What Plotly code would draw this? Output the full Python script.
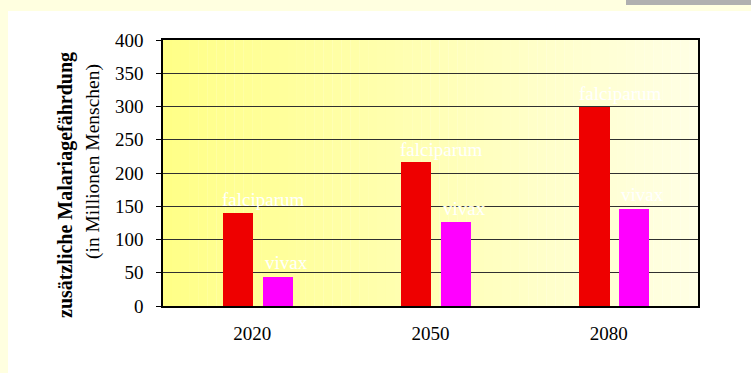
import plotly.graph_objects as go

years = ["2020", "2050", "2080"]
falciparum = [140, 216, 300]
vivax = [44, 126, 146]
series_names = ["falciparum", "vivax"]
y_ticks = [0, 50, 100, 150, 200, 250, 300, 350, 400]

W, H = 751, 373
L, R, T, B = 163, 698, 40, 306  # plot area pixels
pw, ph = R - L, B - T

def px(x):
    return (x - L) / pw

def py(y):
    return (B - y) / ph

xs = list(range(len(years)))
bw = 0.17
FONT = "Liberation Serif"

fig = go.Figure()
fig.add_bar(x=xs, y=falciparum, width=bw, offset=-0.165, marker=dict(color="#EE0000", line=dict(width=0)),
            name=series_names[0])
fig.add_bar(x=xs, y=vivax, width=bw, offset=0.058, marker=dict(color="#FF00FF", line=dict(width=0)),
            name=series_names[1])

shapes = []
shapes.append(dict(type="rect", xref="paper", yref="paper", x0=px(8), x1=px(760), y0=py(380), y1=py(11),
                   fillcolor="white", line=dict(width=0), layer="below"))
shapes.append(dict(type="rect", xref="paper", yref="paper", x0=px(626), x1=px(760), y0=py(5), y1=py(-5),
                   fillcolor="#B0B0B0", line=dict(width=0), layer="below"))
n = 60
c0 = (255, 255, 135)
c1 = (255, 255, 228)
for i in range(n):
    t = i / (n - 1)
    col = tuple(int(round(c0[k] + (c1[k] - c0[k]) * t)) for k in range(3))
    shapes.append(dict(type="rect", xref="x", yref="y",
                       x0=-0.5 + 3.0 * i / n, x1=-0.5 + 3.0 * (i + 1) / n + 0.001,
                       y0=0, y1=400, fillcolor="rgb(%d,%d,%d)" % col, line=dict(width=0), layer="below"))

annotations = []
for i in range(len(years)):
    annotations.append(dict(x=xs[i] - 0.18, y=falciparum[i], xref="x", yref="y", text=series_names[0],
                            showarrow=False, xanchor="left", yanchor="middle", yshift=13,
                            font=dict(family=FONT, size=19, color="white")))
    annotations.append(dict(x=xs[i] + 0.058, y=vivax[i], xref="x", yref="y", text=series_names[1],
                            showarrow=False, xanchor="left", yanchor="middle", yshift=14,
                            font=dict(family=FONT, size=19, color="white")))

annotations.append(dict(x=px(65), y=py(185), xref="paper", yref="paper", text="<b>zusätzliche Malariagefährdung</b>",
                        showarrow=False, textangle=-90, xanchor="center", yanchor="middle",
                        font=dict(family=FONT, size=20, color="black")))
annotations.append(dict(x=px(93), y=py(162), xref="paper", yref="paper", text="(in Millionen Menschen)",
                        showarrow=False, textangle=-90, xanchor="center", yanchor="middle",
                        font=dict(family=FONT, size=19.5, color="black")))

fig.update_layout(
    width=W, height=H,
    margin=dict(l=L, r=W - R, t=T, b=H - B, pad=0),
    paper_bgcolor="#FFFFE0",
    plot_bgcolor="rgba(0,0,0,0)",
    showlegend=False,
    bargap=0,
    shapes=shapes,
    annotations=annotations,
    font=dict(family=FONT, size=19, color="black"),
    xaxis=dict(range=[-0.5, 2.5], tickvals=xs, ticktext=years, showgrid=False, zeroline=False,
               showline=True, linecolor="black", linewidth=1.5, mirror=True, ticks="",
               ticklabelstandoff=9, tickfont=dict(family=FONT, size=19, color="black"), fixedrange=True),
    yaxis=dict(range=[0, 400], tickvals=y_ticks, showgrid=True, gridcolor="#303030", gridwidth=1.2,
               zeroline=False, showline=True, linecolor="black", linewidth=1.5, mirror=True,
               ticks="outside", ticklen=5, tickcolor="black", tickwidth=1.2, ticklabelstandoff=9,
               tickfont=dict(family=FONT, size=19, color="black"), fixedrange=True),
)

fig.write_html("out.html")
